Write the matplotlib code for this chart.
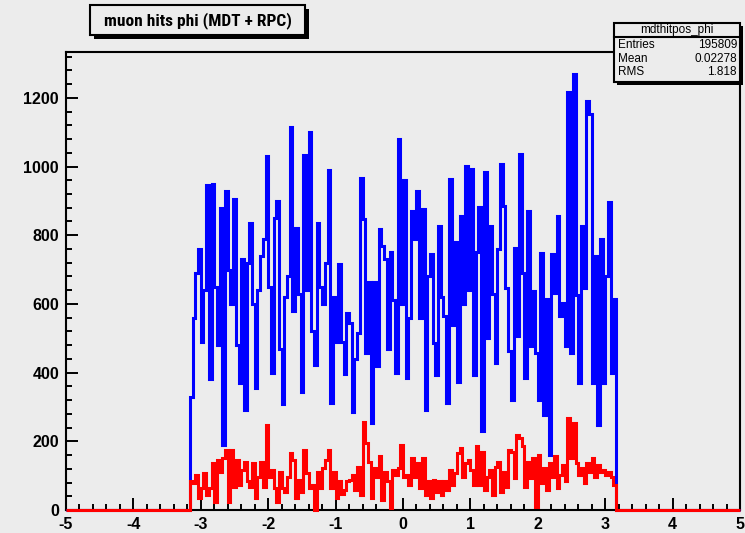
import numpy as np
import matplotlib.pyplot as plt
from matplotlib import font_manager
from matplotlib.patches import Rectangle
from matplotlib.ticker import MultipleLocator

# phi histogram, 0.04 wide bins between -3.16 and 3.16
phi_lo, phi_hi = -3.16, 3.16

mdt_rpc = [330, 560, 690, 760, 490, 640, 945, 380, 950, 650,
           480, 880, 190, 930, 700, 600, 905, 480, 370, 730,
           290, 720, 835, 600, 355, 640, 740, 790, 1030, 650,
           400, 850, 900, 470, 310, 620, 680, 1115, 580,
           820, 630, 345, 1035, 640, 1100, 520, 423, 837, 650,
           600, 720, 991, 311, 620, 490, 715, 490, 395, 575,
           545, 285, 440, 515, 968, 846, 457, 665, 253, 665,
           420, 818, 770, 730, 470, 750, 610, 400, 1080,
           600, 960, 385, 560, 870, 790, 929, 560, 876, 292,
           681, 744, 485, 394, 827, 620, 565, 311, 963, 540,
           779, 374, 856, 600, 1002, 640, 993, 394, 750, 881,
           229, 983, 500, 827, 630, 428, 760, 1007,
           885, 647, 462, 321, 764, 506, 1036, 691, 384, 871,
           477, 637, 457, 321, 749, 277, 613, 160, 744, 632,
           856, 564, 603, 477, 1216, 457, 1270, 627, 370, 827,
           647, 1192, 1153, 370, 739, 248, 788, 370, 681, 896,
           399, 613]

rpc = [83, 78, 102, 34, 63, 107, 45, 63, 136, 24,
       146, 112, 151, 175, 24, 175, 68, 146, 73, 117,
       141, 83, 68, 136, 34, 97, 141, 68, 248, 97,
       117, 63, 24, 112, 63, 53, 97, 165, 146, 34,
       88, 53, 175, 107, 63, 73, 0, 112, 63, 122,
       146, 175, 63, 112, 34, 83, 48, 58, 83, 88,
       102, 58, 126, 44, 255, 195, 141, 34, 122, 97,
       156, 29, 112, 83, 5, 117, 102, 122, 190, 97,
       102, 73, 151, 97, 136, 63, 151, 44, 83, 34,
       88, 53, 83, 44, 83, 58, 117, 73, 107, 165,
       180, 97, 136, 146, 117, 73, 185, 73, 170, 58,
       97, 117, 44, 126, 141, 53, 112, 68, 175, 170,
       92, 219, 209, 185, 68, 141, 92, 151, 10, 161,
       78, 122, 58, 136, 97, 156, 63, 102, 131, 83,
       268, 150, 253, 136, 102, 122, 78, 136, 112, 151,
       97, 131, 112, 117, 102, 112, 97, 73]

stat_names = ["Entries", "Mean", "RMS"]
stat_values = ["195809", "0.02278", "1.818"]

W, H = 745, 533
bg = "#ececec"
font = "Liberation Sans"

# narrow face for the title if one is installed
installed = {f.name for f in font_manager.fontManager.ttflist}
narrow = next((n for n in ["Liberation Sans Narrow", "DejaVu Sans Condensed",
                           "Roboto Condensed", "Open Sans Condensed", "Noto Sans Condensed"]
               if n in installed), None)
plt.rcParams["axes.unicode_minus"] = False


def fx(x):
    return x / W


def fy(y):
    return 1 - y / H


fig = plt.figure(figsize=(W / 100, H / 100), dpi=100, facecolor=bg)
ax = fig.add_axes([fx(66), fy(510), (740 - 66) / W, (510 - 52) / H], facecolor=bg)

inner = np.linspace(phi_lo, phi_hi, len(mdt_rpc) + 1)
edges = np.concatenate([[-5], inner, [5]])
ax.stairs(np.concatenate([[0], mdt_rpc, [0]]), edges, color="blue", lw=2.2,
          baseline=None, zorder=3, clip_on=False)
ax.stairs(np.concatenate([[0], rpc, [0]]), edges, color="red", lw=2.2,
          baseline=None, zorder=4, clip_on=False)

ax.set_xlim(-5, 5)
ax.set_ylim(0, 1.05 * max(mdt_rpc))
ax.xaxis.set_major_locator(MultipleLocator(1))
ax.xaxis.set_minor_locator(MultipleLocator(0.2))
ax.yaxis.set_major_locator(MultipleLocator(200))
ax.yaxis.set_minor_locator(MultipleLocator(40))
ax.tick_params(which="both", direction="in", top=False, right=False, width=1.4, color="black")
ax.tick_params(which="major", length=8.6, pad=5)
ax.tick_params(which="minor", length=4.3)
for lab in ax.get_xticklabels() + ax.get_yticklabels():
    lab.set_fontfamily(font)
    lab.set_fontweight("bold")
    lab.set_fontsize(11.5)
for sp in ax.spines.values():
    sp.set_linewidth(1.5)

# title box with drop shadow
if narrow:
    tx0, tx1, tsize, tfam = 90, 305, 12.5, narrow
else:
    tx0, tx1, tsize, tfam = 88, 318, 12, font
ty0, ty1 = 5, 35
fig.patches.append(Rectangle((fx(tx0 + 4), fy(ty1 + 4)), (tx1 - tx0) / W, (ty1 - ty0) / H,
                             transform=fig.transFigure, facecolor="black", edgecolor="none"))
fig.patches.append(Rectangle((fx(tx0), fy(ty1)), (tx1 - tx0) / W, (ty1 - ty0) / H,
                             transform=fig.transFigure, facecolor=bg, edgecolor="black", lw=1.5))
fig.text(fx((tx0 + tx1) / 2), fy((ty0 + ty1) / 2 + 1), "muon hits phi (MDT + RPC)",
         ha="center", va="center", fontsize=tsize, fontweight="bold", family=tfam)

# statistics box
sx0, sy0, sx1, sy1 = 614, 23, 740, 82
fig.patches.append(Rectangle((fx(sx0 + 3), fy(sy1 + 3)), (sx1 - sx0) / W, (sy1 - sy0) / H,
                             transform=fig.transFigure, facecolor="black", edgecolor="none"))
fig.patches.append(Rectangle((fx(sx0), fy(sy1)), (sx1 - sx0) / W, (sy1 - sy0) / H,
                             transform=fig.transFigure, facecolor=bg, edgecolor="black", lw=1.5))
fig.lines.append(plt.Line2D([fx(sx0), fx(sx1)], [fy(37), fy(37)], transform=fig.transFigure,
                            color="black", lw=1.5))
fig.text(fx((sx0 + sx1) / 2), fy(30), "mdthitpos_phi", ha="center", va="center",
         fontsize=8.5, family=font)
for i, (name, val) in enumerate(zip(stat_names, stat_values)):
    yy = fy(45 + 13.5 * i)
    fig.text(fx(sx0 + 4), yy, name, ha="left", va="center", fontsize=8.5, family=font)
    fig.text(fx(sx1 - 3), yy, val, ha="right", va="center", fontsize=8.5, family=font)

fig.savefig("out.png", dpi=100, facecolor=bg)
